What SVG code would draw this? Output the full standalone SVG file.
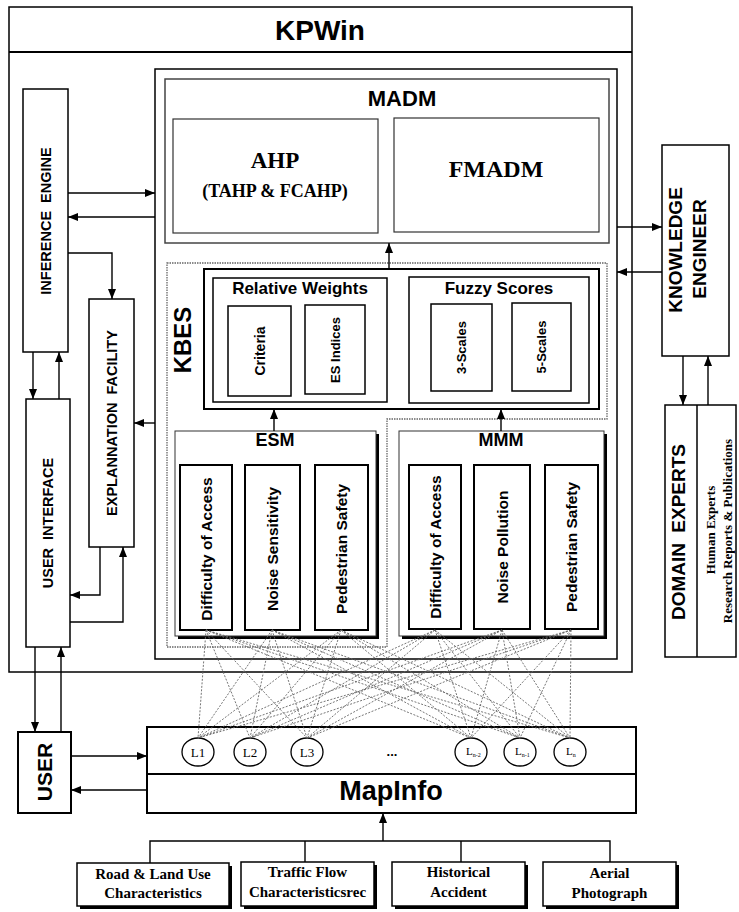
<svg xmlns="http://www.w3.org/2000/svg" width="739" height="912" viewBox="0 0 739 912">
<defs>
<style>
.box{fill:#fff;stroke:#000;stroke-width:1.5}
.bx2{fill:#fff;stroke:#000;stroke-width:2}
.grey{fill:none;stroke:#444;stroke-width:1.5}
.dot{fill:none;stroke:#666;stroke-width:1.3;stroke-dasharray:1.5 1}
.sans{font-family:"Liberation Sans",Arial,sans-serif;font-weight:bold;fill:#000}
.serif{font-family:"Liberation Serif","Times New Roman",serif;font-weight:bold;fill:#000}
.reg{font-family:"Liberation Serif","Times New Roman",serif;fill:#000}
.conn path{fill:none;stroke:#000;stroke-width:1.4}
.arr{marker-end:url(#ah)}
.mesh line{stroke:#666;stroke-width:0.9;stroke-dasharray:2 1.5}
.sh{fill:#000}
.circ{fill:#fff;stroke:#000;stroke-width:1.3}
</style>
<marker id="ah" viewBox="0 0 10 8" refX="10" refY="4" markerWidth="10" markerHeight="8" orient="auto" markerUnits="userSpaceOnUse"><path d="M0,0 L10,4 L0,8 z" fill="#000"/></marker>
</defs>
<rect width="739" height="912" fill="#fff"/>

<g id="kpwin">
<rect x="9" y="7" width="623" height="665" class="box"/>
<line x1="9" y1="52" x2="632" y2="52" stroke="#000" stroke-width="1.8"/>
<text x="320" y="40" class="sans" font-size="28" text-anchor="middle">KPWin</text>
</g>

<g id="container">
<rect x="155" y="69" width="462" height="590" class="box"/>
</g>

<g id="madm">
<rect x="165" y="79" width="444" height="164" class="grey" fill="#fff"/>
<text x="402" y="106" class="sans" font-size="22" text-anchor="middle">MADM</text>
</g>
<g id="ahp">
<rect x="173" y="119" width="205" height="114" fill="#fff" stroke="#333" stroke-width="1.2"/>
<text x="275" y="168" class="serif" font-size="23" text-anchor="middle">AHP</text>
<text x="275" y="197" class="serif" font-size="18" text-anchor="middle">(TAHP &amp; FCAHP)</text>
</g>
<g id="fmadm">
<rect x="394" y="118" width="205" height="114" fill="#fff" stroke="#333" stroke-width="1.2"/>
<text x="496" y="177" class="serif" font-size="24" text-anchor="middle">FMADM</text>
</g>

<g id="kbes">
<path d="M167,263 H607 V419 H387 V647 H167 Z" class="dot"/>
<text transform="translate(190.5,340) rotate(-90)" class="sans" font-size="24" text-anchor="middle">KBES</text>
</g>

<g id="weights-scores">
<rect x="204" y="269" width="395" height="140" class="bx2"/>
</g>
<g id="relative-weights">
<rect x="213" y="278" width="174" height="124" class="box"/>
<text x="300" y="294" class="sans" font-size="17" text-anchor="middle">Relative Weights</text>
</g>
<g id="criteria">
<rect x="228" y="306" width="63" height="90" class="box"/>
<text transform="translate(265,351) rotate(-90)" class="sans" font-size="14" text-anchor="middle">Criteria</text>
</g>
<g id="es-indices">
<rect x="305" y="305" width="60" height="89" class="box"/>
<text transform="translate(339.5,350) rotate(-90)" class="sans" font-size="13" text-anchor="middle">ES Indices</text>
</g>
<g id="fuzzy-scores">
<rect x="409" y="277" width="180" height="126" class="box"/>
<text x="499" y="294" class="sans" font-size="17" text-anchor="middle">Fuzzy Scores</text>
</g>
<g id="scales3">
<rect x="431" y="304" width="61" height="87" class="box"/>
<text transform="translate(466,347.5) rotate(-90)" class="sans" font-size="13" text-anchor="middle">3-Scales</text>
</g>
<g id="scales5">
<rect x="512" y="303" width="59" height="88" class="box"/>
<text transform="translate(546,347) rotate(-90)" class="sans" font-size="13" text-anchor="middle">5-Scales</text>
</g>

<g id="esm">
<rect x="178" y="434" width="201" height="205" class="sh"/>
<rect x="175" y="431" width="201" height="205" fill="#fff" stroke="#333" stroke-width="1"/>
<text x="275" y="446" class="sans" font-size="18" text-anchor="middle">ESM</text>
</g>
<g id="esm-doa">
<rect x="180" y="465" width="52" height="165" class="bx2"/>
<text transform="translate(211.5,549) rotate(-90)" class="sans" font-size="15.5" text-anchor="middle">Difficulty of Access</text>
</g>
<g id="esm-ns">
<rect x="245" y="465" width="55" height="165" class="bx2"/>
<text transform="translate(278,549) rotate(-90)" class="sans" font-size="15.5" text-anchor="middle">Noise Sensitivity</text>
</g>
<g id="esm-ps">
<rect x="315" y="465" width="53" height="165" class="bx2"/>
<text transform="translate(347,549) rotate(-90)" class="sans" font-size="15.5" text-anchor="middle">Pedestrian Safety</text>
</g>

<g id="mmm">
<rect x="402" y="434" width="205" height="205" class="sh"/>
<rect x="399" y="431" width="205" height="205" fill="#fff" stroke="#333" stroke-width="1"/>
<text x="501" y="446" class="sans" font-size="18" text-anchor="middle">MMM</text>
</g>
<g id="mmm-doa">
<rect x="409" y="465" width="52" height="164" class="bx2"/>
<text transform="translate(440.5,547) rotate(-90)" class="sans" font-size="15.5" text-anchor="middle">Difficulty of Access</text>
</g>
<g id="mmm-np">
<rect x="474" y="465" width="56" height="164" class="bx2"/>
<text transform="translate(507.5,547) rotate(-90)" class="sans" font-size="15.5" text-anchor="middle">Noise Pollution</text>
</g>
<g id="mmm-ps">
<rect x="545" y="465" width="53" height="164" class="bx2"/>
<text transform="translate(577,547) rotate(-90)" class="sans" font-size="15.5" text-anchor="middle">Pedestrian Safety</text>
</g>

<g id="inference-engine">
<rect x="23" y="89" width="45" height="263" class="box"/>
<text transform="translate(50.5,221) rotate(-90)" class="sans" font-size="14.5" text-anchor="middle" word-spacing="4">INFERENCE ENGINE</text>
</g>
<g id="explanation-facility">
<rect x="89" y="299" width="45" height="248" class="box"/>
<text transform="translate(116.5,423) rotate(-90)" class="sans" font-size="14.5" text-anchor="middle" word-spacing="4">EXPLANNATION FACILITY</text>
</g>
<g id="user-interface">
<rect x="26" y="399" width="44" height="248" class="box"/>
<text transform="translate(53,523) rotate(-90)" class="sans" font-size="14.5" text-anchor="middle" word-spacing="4">USER INTERFACE</text>
</g>
<g id="user">
<rect x="18" y="732" width="53" height="81" class="bx2"/>
<text transform="translate(52,772) rotate(-90)" class="sans" font-size="21" text-anchor="middle">USER</text>
</g>

<g id="knowledge-engineer">
<rect x="662" y="145" width="67" height="211" class="box"/>
<text transform="translate(682,250) rotate(-90)" class="sans" font-size="19" text-anchor="middle">KNOWLEDGE</text>
<text transform="translate(706,249) rotate(-90)" class="sans" font-size="19" text-anchor="middle">ENGINEER</text>
</g>
<g id="domain-experts">
<rect x="665" y="405" width="71" height="252" class="box"/>
<line x1="697" y1="405" x2="697" y2="657" stroke="#000" stroke-width="1.5"/>
<text transform="translate(685,532) rotate(-90)" class="sans" font-size="19" text-anchor="middle" word-spacing="5">DOMAIN EXPERTS</text>
<text transform="translate(714.5,530) rotate(-90)" class="serif" font-size="13" text-anchor="middle">Human Experts</text>
<text transform="translate(732,531) rotate(-90)" class="serif" font-size="13" text-anchor="middle">Research Reports &amp; Publications</text>
</g>

<g id="mapinfo">
<rect x="147" y="727" width="489" height="86" class="bx2"/>
<line x1="147" y1="774" x2="636" y2="774" stroke="#000" stroke-width="2"/>
<text x="391" y="800" class="sans" font-size="27" text-anchor="middle">MapInfo</text>
</g>
<g id="l1"><ellipse cx="198" cy="752" rx="16" ry="14" class="circ"/><text x="198" y="756.5" class="reg" font-size="13" text-anchor="middle">L1</text></g>
<g id="l2"><ellipse cx="250" cy="752" rx="16" ry="14" class="circ"/><text x="250" y="756.5" class="reg" font-size="13" text-anchor="middle">L2</text></g>
<g id="l3"><ellipse cx="307" cy="752" rx="16" ry="14" class="circ"/><text x="307" y="756.5" class="reg" font-size="13" text-anchor="middle">L3</text></g>
<g id="dots"><text x="392" y="756" class="sans" font-size="13" text-anchor="middle">...</text></g>
<g id="ln2"><ellipse cx="471" cy="752" rx="16" ry="14" class="circ"/><text x="466" y="755" class="reg" font-size="11">L<tspan font-size="6" dy="2">n-2</tspan></text></g>
<g id="ln1"><ellipse cx="520" cy="752" rx="16" ry="14" class="circ"/><text x="515" y="755" class="reg" font-size="11">L<tspan font-size="6" dy="2">n-1</tspan></text></g>
<g id="ln"><ellipse cx="570" cy="752" rx="16" ry="14" class="circ"/><text x="566" y="755" class="reg" font-size="11">L<tspan font-size="6" dy="2">n</tspan></text></g>

<g id="road">
<rect x="80" y="866" width="152" height="43" class="sh"/>
<rect x="77" y="863" width="152" height="43" class="box"/>
<text x="153" y="879" class="serif" font-size="15" text-anchor="middle">Road &amp; Land Use</text>
<text x="153" y="898" class="serif" font-size="15" text-anchor="middle">Characteristics</text>
</g>
<g id="traffic">
<rect x="244" y="865" width="133" height="44" class="sh"/>
<rect x="241" y="862" width="133" height="44" class="box"/>
<text x="307.5" y="877" class="serif" font-size="15" text-anchor="middle">Traffic Flow</text>
<text x="307.5" y="897" class="serif" font-size="15" text-anchor="middle">Characteristicsrec</text>
</g>
<g id="historical">
<rect x="395" y="865" width="133" height="44" class="sh"/>
<rect x="392" y="862" width="133" height="44" class="box"/>
<text x="458.5" y="877" class="serif" font-size="15" text-anchor="middle">Historical</text>
<text x="458.5" y="897" class="serif" font-size="15" text-anchor="middle">Accident</text>
</g>
<g id="aerial">
<rect x="546" y="865" width="133" height="44" class="sh"/>
<rect x="543" y="862" width="133" height="44" class="box"/>
<text x="609.5" y="878" class="serif" font-size="15" text-anchor="middle">Aerial</text>
<text x="609.5" y="898" class="serif" font-size="15" text-anchor="middle">Photograph</text>
</g>

<g id="mesh" class="mesh">
<line x1="206" y1="630" x2="198" y2="738"/><line x1="206" y1="630" x2="250" y2="738"/><line x1="206" y1="630" x2="307" y2="738"/><line x1="206" y1="630" x2="471" y2="738"/><line x1="206" y1="630" x2="520" y2="738"/><line x1="206" y1="630" x2="570" y2="738"/>
<line x1="272" y1="630" x2="198" y2="738"/><line x1="272" y1="630" x2="250" y2="738"/><line x1="272" y1="630" x2="307" y2="738"/><line x1="272" y1="630" x2="471" y2="738"/><line x1="272" y1="630" x2="520" y2="738"/><line x1="272" y1="630" x2="570" y2="738"/>
<line x1="341" y1="630" x2="198" y2="738"/><line x1="341" y1="630" x2="250" y2="738"/><line x1="341" y1="630" x2="307" y2="738"/><line x1="341" y1="630" x2="471" y2="738"/><line x1="341" y1="630" x2="520" y2="738"/><line x1="341" y1="630" x2="570" y2="738"/>
<line x1="435" y1="630" x2="198" y2="738"/><line x1="435" y1="630" x2="250" y2="738"/><line x1="435" y1="630" x2="307" y2="738"/><line x1="435" y1="630" x2="471" y2="738"/><line x1="435" y1="630" x2="520" y2="738"/><line x1="435" y1="630" x2="570" y2="738"/>
<line x1="502" y1="630" x2="198" y2="738"/><line x1="502" y1="630" x2="250" y2="738"/><line x1="502" y1="630" x2="307" y2="738"/><line x1="502" y1="630" x2="471" y2="738"/><line x1="502" y1="630" x2="520" y2="738"/><line x1="502" y1="630" x2="570" y2="738"/>
<line x1="571" y1="630" x2="198" y2="738"/><line x1="571" y1="630" x2="250" y2="738"/><line x1="571" y1="630" x2="307" y2="738"/><line x1="571" y1="630" x2="471" y2="738"/><line x1="571" y1="630" x2="520" y2="738"/><line x1="571" y1="630" x2="570" y2="738"/>
</g>

<g id="connectors" class="conn">
<path class="arr" d="M68,193 H155"/>
<path class="arr" d="M155,217 H68"/>
<path class="arr" d="M68,253 H112 V299"/>
<path class="arr" d="M155,423 H134"/>
<path class="arr" d="M33,352 V399"/>
<path class="arr" d="M59,399 V352"/>
<path class="arr" d="M100,547 V595 H70"/>
<path class="arr" d="M70,622 H123 V547"/>
<path class="arr" d="M35,647 V732"/>
<path class="arr" d="M61,732 V647"/>
<path class="arr" d="M71,756 H147"/>
<path class="arr" d="M147,790 H71"/>
<path class="arr" d="M617,227 H662"/>
<path class="arr" d="M662,272 H617"/>
<path class="arr" d="M683,356 V405"/>
<path class="arr" d="M708,405 V356"/>
<path class="arr" d="M389,269 V243"/>
<path class="arr" d="M274,431 V409"/>
<path class="arr" d="M501,431 V409"/>
<path d="M150,863 V841 H610 V862 M305,841 V862 M461,841 V862"/>
<path class="arr" d="M383,841 V813"/>
</g>
</svg>
